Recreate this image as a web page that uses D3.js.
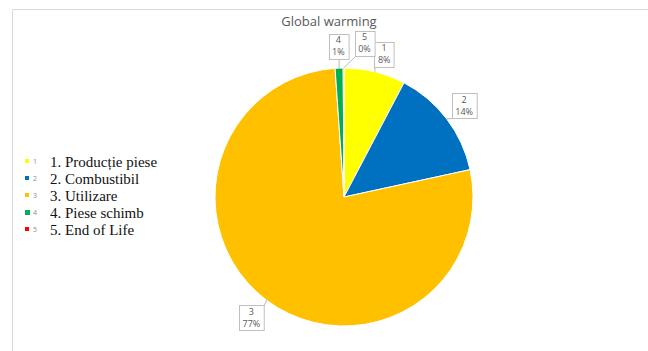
<!DOCTYPE html>
<html>
<head>
<meta charset="utf-8">
<script src="https://cdn.jsdelivr.net/npm/d3@7"></script>
<style>
  body { margin: 0; background: #fff; }
</style>
</head>
<body>
<script>
// chart data
var categories = ["1. Producție piese", "2. Combustibil", "3. Utilizare", "4. Piese schimb", "5. End of Life"];
var shortLabels = ["1", "2", "3", "4", "5"];
var values = [7.7, 13.9, 77.3, 1.0, 0.1];
var pctLabels = ["8%", "14%", "77%", "1%", "0%"];
var colors = ["#FFFF00", "#0070C0", "#FFC000", "#00B050", "#FF0000"];

var width = 648, height = 351;
var cx = 344, cy = 197, radius = 129;
var labelRadius = 151;
// small manual nudges so the callouts near the top do not overlap
var nudge = [[4, 4], [0, 0], [-2, 0], [0, 0], [21, -3]];

var svg = d3.select("body")
  .append("svg")
  .attr("width", width)
  .attr("height", height);

// frame of the chart area
svg.append("path")
  .attr("d", "M12.5," + height + "V9.5H" + width)
  .attr("fill", "none")
  .attr("stroke", "#d9d9d9")
  .attr("stroke-width", 1);

svg.append("text")
  .attr("x", 329)
  .attr("y", 26)
  .attr("text-anchor", "middle")
  .attr("font-family", "Open Sans, sans-serif")
  .attr("font-size", 13)
  .attr("fill", "#595959")
  .text("Global warming");

var data = categories.map(function(c, i) {
  return { name: c, short: shortLabels[i], value: values[i], pct: pctLabels[i], color: colors[i], i: i };
});

var pie = d3.pie().sort(null).value(d => d.value);
var arc = d3.arc().innerRadius(0).outerRadius(radius);
var arcs = pie(data);

var g = svg.append("g").attr("transform", "translate(" + cx + "," + cy + ")");

g.selectAll("path.slice")
  .data(arcs)
  .enter()
  .append("path")
  .attr("class", "slice")
  .attr("d", arc)
  .attr("fill", d => d.data.color)
  .attr("stroke", "#fff")
  .attr("stroke-width", 1);

// callout labels
var labelG = g.append("g");
arcs.forEach(function(d) {
  var mid = (d.startAngle + d.endAngle) / 2;
  var edge = [Math.sin(mid) * radius, -Math.cos(mid) * radius];
  var lx = Math.sin(mid) * labelRadius + nudge[d.index][0];
  var ly = -Math.cos(mid) * labelRadius + nudge[d.index][1];

  var grp = labelG.append("g");
  var t1 = grp.append("text")
    .attr("x", lx).attr("y", ly - 3)
    .attr("text-anchor", "middle")
    .attr("font-family", "Open Sans, sans-serif")
    .attr("font-size", 9)
    .attr("fill", "#595959")
    .text(d.data.short);
  var t2 = grp.append("text")
    .attr("x", lx).attr("y", ly + 9)
    .attr("text-anchor", "middle")
    .attr("font-family", "Open Sans, sans-serif")
    .attr("font-size", 9)
    .attr("fill", "#595959")
    .text(d.data.pct);
  var w = Math.max(t1.node().getComputedTextLength(), t2.node().getComputedTextLength()) + 7;
  var h = 25;
  var bx = Math.round(lx - w / 2) + 0.5, by = Math.round(ly - h / 2) + 0.5;

  // leader from the nearest point of the box to the slice edge
  var px = Math.max(bx, Math.min(bx + w, edge[0]));
  var py = Math.max(by, Math.min(by + h, edge[1]));
  grp.insert("line", "text")
    .attr("x1", px).attr("y1", py)
    .attr("x2", edge[0]).attr("y2", edge[1])
    .attr("stroke", "#a6a6a6")
    .attr("stroke-width", 0.8);
  grp.insert("rect", "text")
    .attr("x", bx).attr("y", by)
    .attr("width", w).attr("height", h)
    .attr("fill", "#fff")
    .attr("stroke", "#bfbfbf")
    .attr("stroke-width", 1);
});

// legend
var legend = svg.append("g").attr("transform", "translate(24,162)");
var rowH = 17;
var rows = legend.selectAll("g.row")
  .data(data)
  .enter()
  .append("g")
  .attr("class", "row")
  .attr("transform", (d, i) => "translate(0," + i * rowH + ")");

rows.append("rect")
  .attr("x", 1).attr("y", -3)
  .attr("width", d => d.i === 3 ? 5 : 4)
  .attr("height", d => d.i === 3 ? 5 : 4)
  .attr("fill", d => d.color);

rows.append("text")
  .attr("x", 9).attr("y", 2)
  .attr("font-family", "Open Sans, sans-serif")
  .attr("font-size", 7)
  .attr("fill", "#8c8c8c")
  .text(d => d.short);

rows.append("text")
  .attr("x", 26).attr("y", 5)
  .attr("font-family", "Liberation Serif, serif")
  .attr("font-size", 15)
  .attr("fill", "#111")
  .text(d => d.name);
</script>
</body>
</html>
